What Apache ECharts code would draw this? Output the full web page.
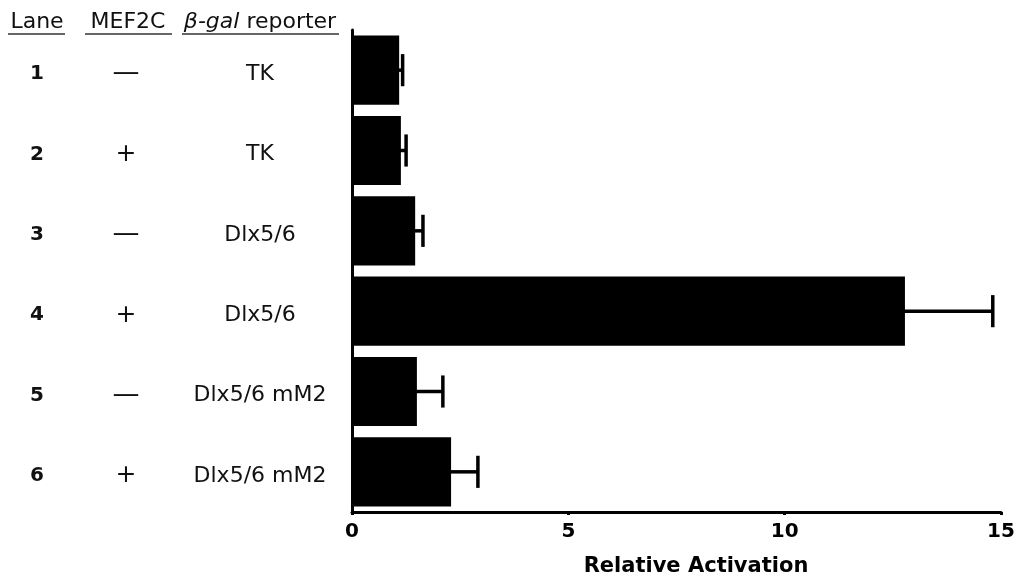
<!DOCTYPE html>
<html>
<head>
<meta charset="utf-8">
<script src="https://cdn.jsdelivr.net/npm/echarts/dist/echarts.min.js"></script>
<style>
  html, body { margin: 0; padding: 0; background: #fff; }
  #chart { width: 1019px; height: 583px; }
</style>
</head>
<body>
<div id="chart"></div>
<script>
// Reporter assay: relative activation per lane, mean with upper error
const lanes = ['1', '2', '3', '4', '5', '6'];
const mef2c = ['−', '+', '−', '+', '−', '+'];
const reporters = ['TK', 'TK', 'Dlx5/6', 'Dlx5/6', 'Dlx5/6 mM2', 'Dlx5/6 mM2'];
const activation = [1.09, 1.13, 1.46, 12.78, 1.50, 2.29];
const errorUp = [0.08, 0.12, 0.18, 2.03, 0.60, 0.62];
const xTicks = [0, 5, 10, 15];
const headers = ['Lane', 'MEF2C', 'β-gal reporter'];
const xTitle = 'Relative Activation';

const FONT = 'DejaVu Sans';
const INK = '#111';

const chart = echarts.init(document.getElementById('chart'), null, { renderer: 'canvas' });

const errData = activation.map((v, i) => [v, v + errorUp[i], i]);

const option = {
  backgroundColor: '#fff',
  animation: false,
  grid: { left: 352, right: 18, top: 30, bottom: 71, containLabel: false },
  xAxis: {
    type: 'value',
    min: xTicks[0],
    max: xTicks[xTicks.length - 1],
    interval: xTicks[1] - xTicks[0],
    axisLine: { show: true, lineStyle: { color: '#000', width: 3 } },
    axisTick: { show: true, length: 3, lineStyle: { color: '#000', width: 3 } },
    splitLine: { show: false },
    axisLabel: { color: '#000', fontFamily: FONT, fontWeight: 'bold', fontSize: 20, margin: 10 }
  },
  yAxis: {
    type: 'category',
    data: lanes,
    inverse: true,
    axisLine: { show: true, lineStyle: { color: '#000', width: 3 } },
    axisTick: { show: false },
    axisLabel: { show: false },
    splitLine: { show: false }
  },
  series: [
    {
      type: 'bar',
      data: activation,
      barCategoryGap: '14%',
      itemStyle: { color: '#000' },
      z: 2
    },
    {
      type: 'custom',
      data: errData,
      encode: { x: [0, 1], y: 2 },
      z: 3,
      renderItem: function (params, api) {
        const cat = api.value(2);
        const p0 = api.coord([api.value(0), cat]);
        const p1 = api.coord([api.value(1), cat]);
        const band = api.size([0, 1])[1];
        const half = band * 0.2;
        const style = { stroke: '#000', lineWidth: 3.5 };
        return {
          type: 'group',
          children: [
            { type: 'line', shape: { x1: p0[0] - 2, y1: p0[1], x2: p1[0], y2: p1[1] }, style: style },
            { type: 'line', shape: { x1: p1[0], y1: p1[1] - half, x2: p1[0], y2: p1[1] + half }, style: style }
          ]
        };
      }
    }
  ]
};

chart.setOption(option);

// Row annotations and column headers placed against the category axis
function buildGraphics() {
  const g = [];
  const textBase = { fontFamily: FONT, fill: INK, align: 'center', verticalAlign: 'middle' };
  lanes.forEach((lane, i) => {
    const y = chart.convertToPixel({ yAxisIndex: 0 }, lane) + 4;
    g.push({ type: 'text', x: 37, y: y, style: Object.assign({}, textBase, { text: lane, fontSize: 20, fontWeight: 'bold' }) });
    const isMinus = mef2c[i] !== '+';
    g.push({ type: 'text', x: 126, y: y + (isMinus ? -1 : 0), style: Object.assign({}, textBase, { text: isMinus ? '—' : '+', fontSize: isMinus ? 27 : 25 }) });
    g.push({ type: 'text', x: 260, y: y, style: Object.assign({}, textBase, { text: reporters[i], fontSize: 22 }) });
  });

  const headerY = 22;
  const headerX = [37, 128, 260];
  const underline = [[8, 65], [85, 172], [182, 339]];
  headers.forEach((h, k) => {
    const isReporter = h.indexOf('β-gal') === 0;
    g.push({
      type: 'text', x: headerX[k], y: headerY,
      style: Object.assign({}, textBase, isReporter ? {
        text: '{i|β-gal} reporter',
        fontSize: 22,
        rich: { i: { fontFamily: FONT, fontStyle: 'italic', fontSize: 22, fill: INK } }
      } : { text: h, fontSize: 22 })
    });
    g.push({ type: 'line', shape: { x1: underline[k][0], y1: 34, x2: underline[k][1], y2: 34 }, style: { stroke: '#333', lineWidth: 1.5 } });
  });

  g.push({
    type: 'text', x: 696, y: 567,
    style: Object.assign({}, textBase, { text: xTitle, fontSize: 21, fontWeight: 'bold', fill: '#000' })
  });
  return g;
}

chart.setOption({ graphic: buildGraphics() });
</script>
</body>
</html>
